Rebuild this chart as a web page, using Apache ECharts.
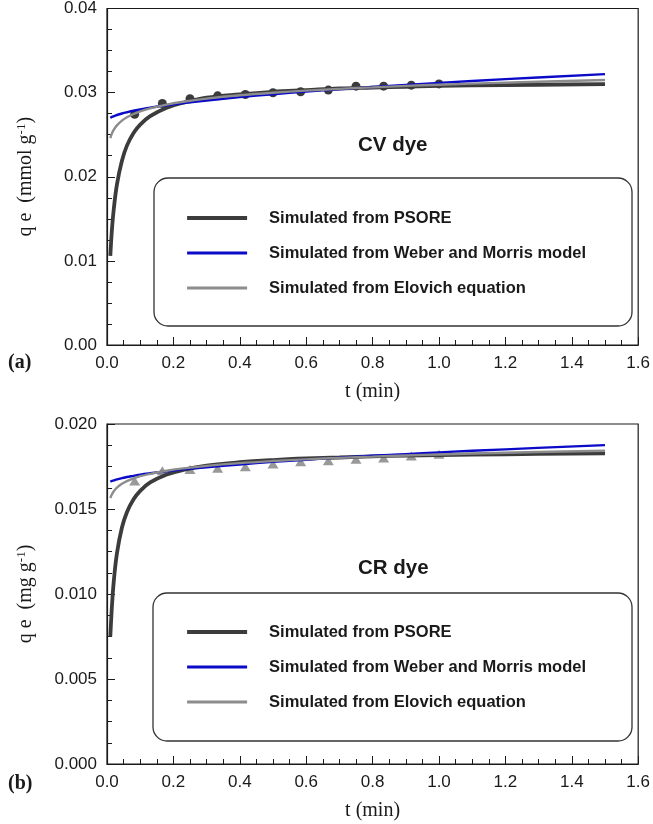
<!DOCTYPE html>
<html><head><meta charset="utf-8">
<script src="https://cdn.jsdelivr.net/npm/echarts@6/dist/echarts.min.js"></script>
<style>html,body{margin:0;padding:0;background:#fff}#c{width:653px;height:824px}</style>
</head><body><div id="c"></div>
<script>
// ---- data ----
const expTime = [0.0833, 0.1667, 0.25, 0.3333, 0.4167, 0.5, 0.5833, 0.6667, 0.75, 0.8333, 0.9167, 1.0];
const cvExp = [0.02742, 0.02872, 0.02927, 0.02962, 0.02978, 0.02998, 0.0301, 0.0303, 0.03077, 0.03077, 0.03089, 0.03104];
const crExp = [0.01665, 0.01725, 0.01733, 0.01739, 0.01749, 0.01765, 0.01778, 0.01784, 0.01792, 0.0180, 0.01812, 0.01822];

const curveTime = [0.01, 0.015, 0.02, 0.03, 0.045, 0.06, 0.08, 0.1, 0.13, 0.18, 0.23, 0.3, 0.4, 0.5, 0.6, 0.7, 0.8, 0.9, 1.0, 1.2, 1.5];
const cvPsore   = [0.0106, 0.0138, 0.0160, 0.0191, 0.0219, 0.0237, 0.0252, 0.0262, 0.0272, 0.0282, 0.0288, 0.0294, 0.0298, 0.0301, 0.0303, 0.0305, 0.0306, 0.0307, 0.0308, 0.0309, 0.0310];
const cvWeber   = [0.0270, 0.02711, 0.02719, 0.02734, 0.02752, 0.02767, 0.02785, 0.0280, 0.02821, 0.0285, 0.02876, 0.02907, 0.02946, 0.02981, 0.03012, 0.0304, 0.03067, 0.03092, 0.03116, 0.0316, 0.0322];
const cvElovich = [0.0246, 0.02516, 0.02556, 0.02611, 0.02667, 0.02707, 0.02746, 0.02777, 0.02813, 0.02858, 0.02892, 0.02928, 0.02968, 0.02999, 0.03024, 0.03045, 0.03063, 0.0308, 0.03094, 0.03119, 0.0315];
const crPsore   = [0.0075, 0.00933, 0.01066, 0.0124, 0.01391, 0.01481, 0.01557, 0.01607, 0.01656, 0.01703, 0.0173, 0.01755, 0.01775, 0.01788, 0.01797, 0.01803, 0.0181, 0.01814, 0.01817, 0.01822, 0.01828];
const crWeber   = [0.0166, 0.01665, 0.01668, 0.01674, 0.01682, 0.01688, 0.01695, 0.01702, 0.0171, 0.01722, 0.01733, 0.01746, 0.01762, 0.01777, 0.0179, 0.01802, 0.01813, 0.01823, 0.01833, 0.01851, 0.01876];
const crElovich = [0.01565, 0.01587, 0.01603, 0.01626, 0.01648, 0.01664, 0.0168, 0.01693, 0.01707, 0.01725, 0.01739, 0.01754, 0.0177, 0.01782, 0.01792, 0.01801, 0.01808, 0.01815, 0.01821, 0.01831, 0.01843];

const seriesNames = ['Simulated from PSORE', 'Simulated from Weber and Morris model', 'Simulated from Elovich equation'];
const panelTitles = ['CV dye', 'CR dye'];
const panelTags = ['(a)', '(b)'];

// ---- chart ----
const pair = (xs, ys) => xs.map((x, i) => [x, ys[i]]);
const SANS = 'Liberation Sans, Arial, sans-serif';
const SERIF = 'Liberation Serif, Times New Roman, serif';
const INK = '#1a1a1a';
const colors = ['#3c3c3c', '#0a0ac8', '#8c8c8c'];
const widths = [3.8, 2.4, 2.4];

function xAxisFor(gi) {
  return {
    gridIndex: gi, type: 'value', min: 0, max: 1.6, interval: 0.2,
    name: 't (min)', nameLocation: 'middle', nameGap: 37,
    nameTextStyle: { fontFamily: SERIF, fontSize: 20, color: INK },
    axisLine: { lineStyle: { color: INK, width: 1.2 } },
    axisTick: { inside: true, length: 8, lineStyle: { color: INK } },
    minorTick: { show: true, splitNumber: 4, length: 5, lineStyle: { color: INK } },
    axisLabel: { fontFamily: SANS, fontSize: 17, color: INK, margin: 10, formatter: v => v.toFixed(1) },
    splitLine: { show: false }
  };
}
function yAxisFor(gi, max, interval, dec, unit) {
  return {
    gridIndex: gi, type: 'value', min: 0, max: max, interval: interval,
    name: '{n|q e  (' + unit + ' g}{s|-1}{n|)}', nameLocation: 'middle', nameGap: 70, nameRotate: 90,
    nameTextStyle: {
      fontFamily: SERIF, fontSize: 20, color: INK,
      rich: {
        n: { fontFamily: SERIF, fontSize: 20, color: INK },
        s: { fontFamily: SERIF, fontSize: 13, color: INK, padding: [0, 0, 9, 0] }
      }
    },
    axisLine: { lineStyle: { color: INK, width: 1.2 } },
    axisTick: { inside: true, length: 8, lineStyle: { color: INK } },
    minorTick: { show: true, splitNumber: 4, length: 5, lineStyle: { color: INK } },
    axisLabel: { fontFamily: SANS, fontSize: 17, color: INK, margin: 10, formatter: v => v.toFixed(dec) },
    splitLine: { show: false }
  };
}
function curve(name, gi, data, k) {
  return {
    name: name, type: 'line', xAxisIndex: gi, yAxisIndex: gi, data: data,
    symbol: 'none', showSymbol: false, smooth: 0.4,
    lineStyle: { color: colors[k], width: widths[k] }, itemStyle: { color: colors[k] },
    z: 3 + k
  };
}
const series = [
  { name: 'Experimental CV', type: 'scatter', xAxisIndex: 0, yAxisIndex: 0, data: pair(expTime, cvExp),
    symbol: 'circle', symbolSize: 9, itemStyle: { color: '#0a0a0a' }, z: 2 },
  curve(seriesNames[0], 0, pair(curveTime, cvPsore), 0),
  curve(seriesNames[1], 0, pair(curveTime, cvWeber), 1),
  curve(seriesNames[2], 0, pair(curveTime, cvElovich), 2),
  { name: 'Experimental CR', type: 'scatter', xAxisIndex: 1, yAxisIndex: 1, data: pair(expTime, crExp),
    symbol: 'triangle', symbolSize: [11, 9], itemStyle: { color: '#808080' }, z: 2 },
  curve(seriesNames[0], 1, pair(curveTime, crPsore), 0),
  curve(seriesNames[1], 1, pair(curveTime, crWeber), 1),
  curve(seriesNames[2], 1, pair(curveTime, crElovich), 2)
];
function legendFor(top) {
  return {
    data: seriesNames.map((n, k) => ({ name: n, lineStyle: { color: colors[k], width: widths[k] + 0.4 } })),
    orient: 'vertical', left: 185, top: top, padding: 0,
    itemWidth: 60, itemHeight: 14, itemGap: 18, selectedMode: false,
    itemStyle: { opacity: 0, borderWidth: 0 },
    textStyle: { fontFamily: SANS, fontSize: 16.5, fontWeight: 'bold', color: INK, padding: [0, 0, 0, 17] }
  };
}
const option = {
  animation: false,
  backgroundColor: '#fff',
  grid: [
    { left: 107, top: 7, width: 535, height: 338, show: true, borderColor: INK, borderWidth: 1.2, backgroundColor: 'transparent' },
    { left: 107, top: 424, width: 535, height: 340, show: true, borderColor: INK, borderWidth: 1.2, backgroundColor: 'transparent' }
  ],
  xAxis: [xAxisFor(0), xAxisFor(1)],
  yAxis: [yAxisFor(0, 0.04, 0.01, 2, 'mmol'), yAxisFor(1, 0.02, 0.005, 3, 'mg')],
  legend: [legendFor(209.5), legendFor(623.5)],
  graphic: [
    { type: 'rect', shape: { x: 154, y: 178, width: 478, height: 148, r: 14 }, style: { fill: 'none', stroke: '#333', lineWidth: 1.3 }, z: 1 },
    { type: 'rect', shape: { x: 153, y: 593, width: 479, height: 148, r: 14 }, style: { fill: 'none', stroke: '#333', lineWidth: 1.3 }, z: 1 },
    { type: 'text', left: 358, top: 135, style: { text: panelTitles[0], font: 'bold 20.5px ' + SANS, fill: INK } },
    { type: 'text', left: 358, top: 558, style: { text: panelTitles[1], font: 'bold 20.5px ' + SANS, fill: INK } },
    { type: 'text', left: 8, top: 353, style: { text: panelTags[0], font: 'bold 20px ' + SERIF, fill: INK } },
    { type: 'text', left: 8, top: 774, style: { text: panelTags[1], font: 'bold 20px ' + SERIF, fill: INK } }
  ],
  series: series
};
const chart = echarts.init(document.getElementById('c'), null, { renderer: 'canvas' });
chart.setOption(option);
</script>
</body></html>
